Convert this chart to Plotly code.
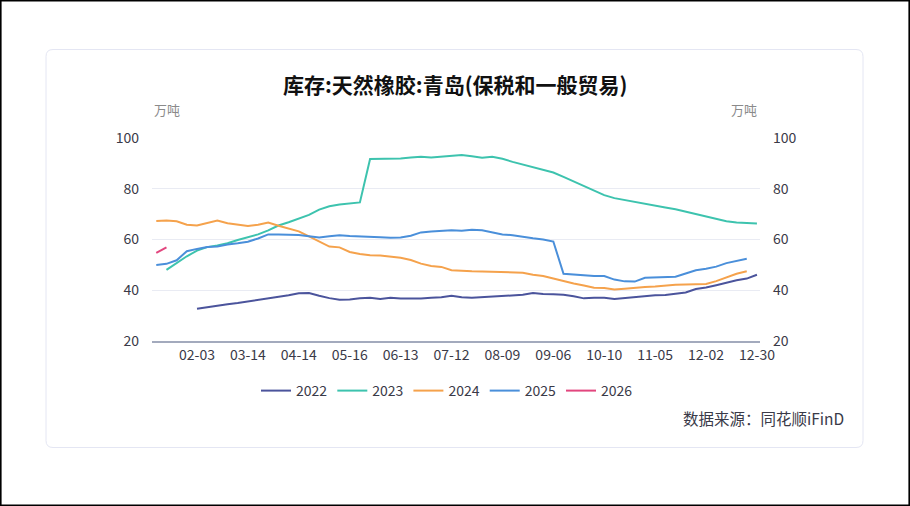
import plotly.graph_objects as go

dates = ["01-06","01-13","01-20","01-27","02-03","02-11","02-19","02-26","03-06","03-14",
         "03-20","03-27","04-02","04-08","04-14","04-21","04-28","05-05","05-10","05-16",
         "05-22","05-28","06-03","06-08","06-13","06-19","06-25","07-01","07-06","07-12",
         "07-18","07-23","07-28","08-03","08-09","08-14","08-19","08-25","08-31","09-06",
         "09-13","09-20","09-27","10-03","10-10","10-15","10-20","10-25","10-31","11-05",
         "11-10","11-15","11-21","11-27","12-02","12-08","12-13","12-19","12-24","12-30"]

tick_labels = ["02-03","03-14","04-14","05-16","06-13","07-12","08-09","09-06","10-10","11-05","12-02","12-30"]

v2022 = [None, None, None, None,
         32.7, 33.4, 33.9, 34.5, 35.0, 35.6, 36.1, 36.8, 37.4, 38.0, 38.8,
         38.9, 37.8, 36.9, 36.3, 36.4, 36.8, 37.0, 36.6, 37.0, 36.7,
         36.6, 36.7, 37.0, 37.2, 37.8, 37.2, 37.0, 37.2, 37.5, 37.9,
         38.0, 38.2, 38.9, 38.5, 38.4, 38.2, 37.6, 36.8, 37.0, 37.0,
         36.6, 37.0, 37.4, 37.6, 38.0, 38.1, 38.5, 39.1, 40.5, 41.1,
         42.0, 43.0, 43.9, 44.6, 46.1]

v2023 = [None, 48.0, 50.8, 53.4, 55.6,
         57.0, 57.6, 58.5, 59.8, 60.8, 62.0, 63.6, 65.5, 66.8, 68.1,
         69.7, 71.8, 73.1, 73.8, 74.2, 74.6, 91.7, 91.8, 91.7, 91.9,
         92.3, 92.6, 92.3, 92.6, 93.0, 93.3, 92.8, 92.2, 92.6, 91.8,
         90.6, 89.6, 88.6, 87.6, 86.4, 84.7, 82.9, 81.0, 79.1, 77.5,
         76.3, 75.5, 74.8, 74.0, 73.2, 72.6, 71.9, 71.0, 69.9, 68.9,
         68.0, 67.2, 66.7, 66.4, 66.3]

v2024 = [67.3, 67.5, 67.2, 65.8, 65.5,
         66.6, 67.5, 66.4, 66.0, 65.3, 65.8, 66.7, 65.4, 64.2, 63.2,
         61.2, 59.2, 57.2, 56.9, 55.1, 54.3, 53.8, 53.7, 53.3, 52.8,
         51.9, 50.5, 49.6, 49.2, 47.9, 47.6, 47.5, 47.4, 47.3, 47.2,
         47.1, 46.9, 46.1, 45.6, 44.6, 43.5, 42.7, 41.9, 41.0, 40.9,
         40.3, 40.6, 41.0, 41.3, 41.5, 41.9, 42.2, 42.3, 42.3, 42.5,
         43.6, 45.0, 46.5, 47.5, None]

v2025 = [50.0, 50.4, 51.8, 55.4, 56.3,
         57.0, 57.2, 58.0, 58.5, 59.1, 60.4, 62.0, 62.0, 62.0, 61.8,
         61.3, 60.8, 61.3, 61.7, 61.4, 61.3, 61.1, 60.9, 60.7, 60.8,
         61.5, 62.8, 63.2, 63.3, 63.6, 63.4, 63.8, 63.6, 62.8, 62.0,
         61.7, 61.0, 60.5, 60.0, 59.2, 46.5, 46.2, 45.8, 45.6, 45.6,
         44.2, 43.5, 43.4, 44.9, 45.0, 45.1, 45.3, 46.6, 47.9, 48.5,
         49.3, 50.7, 51.7, 52.4, None]

v2026 = [54.7, 56.9] + [None] * 58

series_names = ["2022", "2023", "2024", "2025", "2026"]
series_values = [v2022, v2023, v2024, v2025, v2026]
colors = ["#4B549C", "#3DC3AE", "#F5A24C", "#4A8FDA", "#E2467E"]

FONT = "Noto Sans CJK SC"
TXT = "#3a3a48"

fig = go.Figure()
for name, vals, col in zip(series_names, series_values, colors):
    fig.add_trace(go.Scatter(
        x=dates, y=vals, name=name, mode="lines",
        line=dict(color=col, width=2),
        connectgaps=False,
        yaxis="y2" if name == "2026" else "y",
        hoverinfo="x+y+name",
    ))

W, H = 910, 506
L, R, T, B = 152, 760, 138, 341


def px(x):
    return (x - L) / (R - L)


def py(y):
    return (B - y) / (B - T)


def rounded(x0, y0, x1, y1, r):
    rx = r / (R - L)
    ry = r / (B - T)
    X0, X1 = px(x0), px(x1)
    Y0, Y1 = py(y0), py(y1)  # Y0 top (larger), Y1 bottom
    return (f"M {X0+rx},{Y0} L {X1-rx},{Y0} Q {X1},{Y0} {X1},{Y0-ry} "
            f"L {X1},{Y1+ry} Q {X1},{Y1} {X1-rx},{Y1} "
            f"L {X0+rx},{Y1} Q {X0},{Y1} {X0},{Y1+ry} "
            f"L {X0},{Y0-ry} Q {X0},{Y0} {X0+rx},{Y0} Z")


shapes = [
    dict(type="path", xref="paper", yref="paper", path=rounded(46, 49.5, 863, 447.5, 7),
         line=dict(color="#E4E6F3", width=1), fillcolor="rgba(0,0,0,0)", layer="below"),
    dict(type="rect", xref="paper", yref="paper",
         x0=px(0.8), x1=px(909.2), y0=py(0.8), y1=py(505.2),
         line=dict(color="#000000", width=1.6), fillcolor="rgba(0,0,0,0)"),
]

annotations = [
    dict(text="库存:天然橡胶:青岛(保税和一般贸易)", x=px(455), y=py(84), xref="paper", yref="paper",
         showarrow=False, xanchor="center", yanchor="middle",
         font=dict(family=FONT, size=21, color="#111111", weight="bold")),
    dict(text="万吨", x=px(152), y=py(110), xref="paper", yref="paper",
         showarrow=False, xanchor="left", yanchor="middle",
         font=dict(family=FONT, size=13, color="#8a8a8a")),
    dict(text="万吨", x=px(759), y=py(110), xref="paper", yref="paper",
         showarrow=False, xanchor="right", yanchor="middle",
         font=dict(family=FONT, size=13, color="#8a8a8a")),
    dict(text="数据来源：同花顺iFinD", x=px(846), y=py(418), xref="paper", yref="paper",
         showarrow=False, xanchor="right", yanchor="middle",
         font=dict(family=FONT, size=15.5, color=TXT)),
]

yax_common = dict(
    range=[20, 100], tickvals=[20, 40, 60, 80, 100], ticks="",
    tickfont=dict(family=FONT, size=14, color=TXT),
    zeroline=False, fixedrange=True,
)

fig.update_layout(
    width=W, height=H,
    margin=dict(l=L, r=W - R, t=T, b=H - B, pad=0),
    paper_bgcolor="#ffffff", plot_bgcolor="#ffffff",
    showlegend=True,
    legend=dict(orientation="h", x=px(447), y=py(391), xanchor="center", yanchor="middle",
                font=dict(family=FONT, size=14, color=TXT), itemwidth=30,
                bgcolor="rgba(0,0,0,0)", traceorder="normal"),
    xaxis=dict(
        type="category", categoryorder="array", categoryarray=dates,
        range=[-0.42, 59.3], tickmode="array", tickvals=tick_labels, ticktext=tick_labels,
        ticks="", showgrid=False, zeroline=False,
        showline=True, linecolor="#A3AABD", linewidth=2,
        tickfont=dict(family=FONT, size=14, color=TXT), ticklabelstandoff=0,
        fixedrange=True,
    ),
    yaxis=dict(**yax_common, showgrid=True, gridcolor="#E9EBF3", gridwidth=1,
               side="left", ticklabelstandoff=12, showline=False),
    yaxis2=dict(**yax_common, overlaying="y", side="right", showgrid=False,
                ticklabelstandoff=12, showline=False),
    shapes=shapes,
    annotations=annotations,
    hovermode="x unified",
)

fig.write_html(
    "out.html",
    config={"displayModeBar": False},
    post_script="document.body.style.margin='0';document.body.style.padding='0';document.body.style.overflow='hidden';",
)
